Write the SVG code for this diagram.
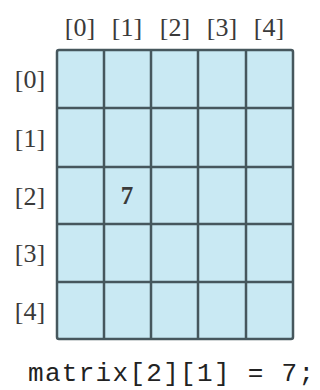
<svg xmlns="http://www.w3.org/2000/svg" width="320" height="390" viewBox="0 0 320 390">
<style>
.lbl{font-family:"Liberation Serif","Times New Roman",serif;font-size:26px;fill:#3a3a3a;text-anchor:middle}
.cell{fill:#c9e9f3;stroke:#46575d;stroke-width:2.5}
.val{font-family:"Liberation Serif","Times New Roman",serif;font-size:25px;font-weight:bold;fill:#3a3a3a;text-anchor:middle}
.code{font-family:"Liberation Mono","Courier New",monospace;font-size:26px;letter-spacing:1.3px;fill:#222}
</style>
<rect width="320" height="390" fill="#fff"/>
<g id="grid">
<rect x="57" y="50" width="236" height="289" rx="2" class="cell"/>
<g stroke="#46575d" stroke-width="2.5">
<line x1="104" y1="50" x2="104" y2="339"/>
<line x1="151" y1="50" x2="151" y2="339"/>
<line x1="198" y1="50" x2="198" y2="339"/>
<line x1="246" y1="50" x2="246" y2="339"/>
<line x1="57" y1="108" x2="293" y2="108"/>
<line x1="57" y1="167" x2="293" y2="167"/>
<line x1="57" y1="224" x2="293" y2="224"/>
<line x1="57" y1="282" x2="293" y2="282"/>
</g>
</g>
<g id="col-labels">
<text class="lbl" x="80" y="36">[0]</text>
<text class="lbl" x="127" y="36">[1]</text>
<text class="lbl" x="175" y="36">[2]</text>
<text class="lbl" x="222" y="36">[3]</text>
<text class="lbl" x="269" y="36">[4]</text>
</g>
<g id="row-labels">
<text class="lbl" x="30" y="88">[0]</text>
<text class="lbl" x="30" y="147">[1]</text>
<text class="lbl" x="30" y="205">[2]</text>
<text class="lbl" x="30" y="262">[3]</text>
<text class="lbl" x="30" y="320">[4]</text>
</g>
<g id="value">
<text class="val" x="127" y="204">7</text>
</g>
<text class="code" x="28" y="381">matrix[2][1] = 7;</text>
</svg>
